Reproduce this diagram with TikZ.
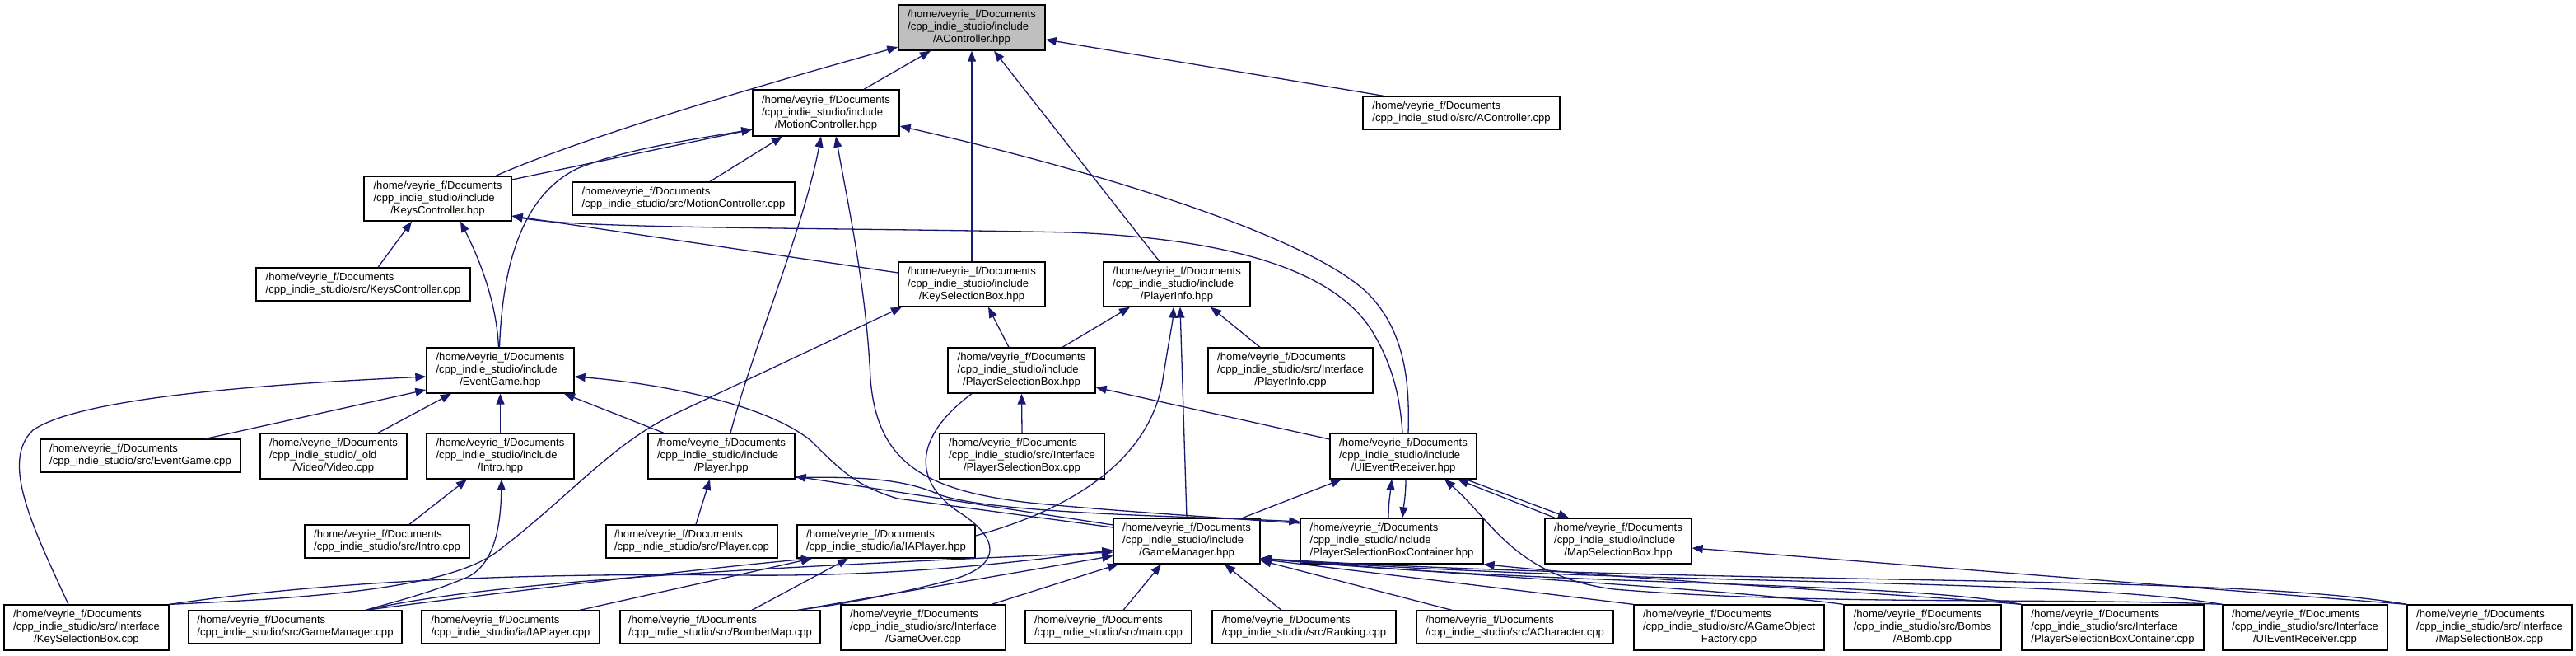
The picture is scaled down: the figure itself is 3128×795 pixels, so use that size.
\documentclass[tikz,border=0pt]{standalone}
\usepackage{fontspec}
\setmainfont{Liberation Sans}
\usetikzlibrary{arrows.meta}
\definecolor{edgec}{HTML}{191970}
\definecolor{accfill}{HTML}{BFBFBF}
\newcommand{\vHome}{/home/veyrie\_f/Documents}
\newcommand{\vInc}{/cpp\_indie\_studio/include}
\newcommand{\vSrc}{/cpp\_indie\_studio/src/}
\newcommand{\threel}[3]{\begin{tabular}{@{}l@{}}#1\\#2\\\multicolumn{1}{@{}c@{}}{#3}\end{tabular}}
\newcommand{\twol}[2]{\begin{tabular}{@{}l@{}}#1\\#2\end{tabular}}
\begin{document}
\begin{tikzpicture}[x=1pt,y=-1pt,
  nd/.style 2 args={draw=black, line width=1.3pt, fill=white, inner sep=0pt,
    minimum width=#1pt, minimum height=#2pt, font=\fontsize{13.1}{15}\selectfont},
  dep/.style={draw=edgec, line width=1.3pt, -{Triangle[length=13pt,width=10pt]}},
  plain/.style={draw=edgec, line width=1.3pt}]
\useasboundingbox[fill=white] (0,0) rectangle (3128,795);
% ---- nodes ----
\node[nd={178}{55}, fill=accfill] (ac) at (1180,33.5) {\threel{\vHome}{\vInc}{/AController.hpp}};
\node[nd={178}{56}] (mc) at (1003,137) {\threel{\vHome}{\vInc}{/MotionController.hpp}};
\node[nd={239}{40}] (acc) at (1774.5,137) {\twol{\vHome}{\vSrc AController.cpp}};
\node[nd={179}{54}] (kc) at (531.5,241) {\threel{\vHome}{\vInc}{/KeysController.hpp}};
\node[nd={270}{40}] (mcc) at (830,241) {\twol{\vHome}{\vSrc MotionController.cpp}};
\node[nd={260}{40}] (kcc) at (441,345) {\twol{\vHome}{\vSrc KeysController.cpp}};
\node[nd={178}{54}] (ksb) at (1180,345) {\threel{\vHome}{\vInc}{/KeySelectionBox.hpp}};
\node[nd={178}{54}] (pi) at (1429,345) {\threel{\vHome}{\vInc}{/PlayerInfo.hpp}};
\node[nd={200}{55}] (pic) at (1567,449.5) {\threel{\vHome}{\vSrc Interface}{/PlayerInfo.cpp}};
\node[nd={179}{55}] (psb) at (1240.5,449.5) {\threel{\vHome}{\vInc}{/PlayerSelectionBox.hpp}};
\node[nd={179}{55}] (eg) at (607.5,449.5) {\threel{\vHome}{\vInc}{/EventGame.hpp}};
\node[nd={243}{40}] (egc) at (170.5,553) {\twol{\vHome}{\vSrc EventGame.cpp}};
\node[nd={178}{55}] (vid) at (405,553.5) {\threel{\vHome}{/cpp\_indie\_studio/\_old}{/Video/Video.cpp}};
\node[nd={179}{55}] (intro) at (607.5,553.5) {\threel{\vHome}{\vInc}{/Intro.hpp}};
\node[nd={178}{55}] (pl) at (876,553.5) {\threel{\vHome}{\vInc}{/Player.hpp}};
\node[nd={200}{55}] (psbc) at (1241,553.5) {\threel{\vHome}{\vSrc Interface}{/PlayerSelectionBox.cpp}};
\node[nd={178}{55}] (uie) at (1704,553.5) {\threel{\vHome}{\vInc}{/UIEventReceiver.hpp}};
\node[nd={200}{40}] (introc) at (470,657) {\twol{\vHome}{\vSrc Intro.cpp}};
\node[nd={208}{40}] (plc) at (840,657) {\twol{\vHome}{\vSrc Player.cpp}};
\node[nd={216}{40}] (iap) at (1076,657) {\twol{\vHome}{/cpp\_indie\_studio/ia/IAPlayer.hpp}};
\node[nd={178}{55}] (gm) at (1441,656.5) {\threel{\vHome}{\vInc}{/GameManager.hpp}};
\node[nd={222}{55}] (psbcont) at (1690,656.5) {\threel{\vHome}{\vInc}{/PlayerSelectionBoxContainer.hpp}};
\node[nd={178}{55}] (msb) at (1965,656.5) {\threel{\vHome}{\vInc}{/MapSelectionBox.hpp}};
\node[nd={200}{55}] (ksbc) at (105,761.5) {\threel{\vHome}{\vSrc Interface}{/KeySelectionBox.cpp}};
\node[nd={259}{40}] (gmc) at (358.5,761) {\twol{\vHome}{\vSrc GameManager.cpp}};
\node[nd={216}{40}] (iapc) at (620,761) {\twol{\vHome}{/cpp\_indie\_studio/ia/IAPlayer.cpp}};
\node[nd={243}{40}] (bm) at (874.5,761) {\twol{\vHome}{\vSrc BomberMap.cpp}};
\node[nd={200}{55}] (go) at (1121,761.5) {\threel{\vHome}{\vSrc Interface}{/GameOver.cpp}};
\node[nd={202}{40}] (mainc) at (1346,761) {\twol{\vHome}{\vSrc main.cpp}};
\node[nd={223}{40}] (rk) at (1583.5,761) {\twol{\vHome}{\vSrc Ranking.cpp}};
\node[nd={239}{40}] (ach) at (1839.5,761) {\twol{\vHome}{\vSrc ACharacter.cpp}};
\node[nd={231}{55}] (agof) at (2099.5,761.5) {\threel{\vHome}{\vSrc AGameObject}{Factory.cpp}};
\node[nd={191}{55}] (abomb) at (2334.5,761.5) {\threel{\vHome}{\vSrc Bombs}{/ABomb.cpp}};
\node[nd={221}{55}] (psbcc) at (2565.5,761.5) {\threel{\vHome}{\vSrc Interface}{/PlayerSelectionBoxContainer.cpp}};
\node[nd={200}{55}] (uiec) at (2799,761.5) {\threel{\vHome}{\vSrc Interface}{/UIEventReceiver.cpp}};
\node[nd={200}{55}] (msbc) at (3023,761.5) {\threel{\vHome}{\vSrc Interface}{/MapSelectionBox.cpp}};
% ---- edges ----
\draw[dep] ([xshift=70.5pt]kc.north) .. controls (700,170) and (900,110) .. ([yshift=-23.5pt]ac.west);
\draw[dep] ([xshift=46pt]mc.north) -- ([xshift=-50pt]ac.south);
\draw[dep] (ksb.north) -- (ac.south);
\draw[dep] ([xshift=-21pt]pi.north) -- ([xshift=27pt]ac.south);
\draw[dep] ([xshift=-94.5pt]acc.north) -- ([yshift=-14.5pt]ac.east);
\draw[dep] ([yshift=23pt]kc.east) -- ([yshift=-20pt]mc.west);
\draw[dep] ([xshift=-1pt]eg.north) .. controls (610,330) and (630,240) .. (700,205) .. controls (760,180) and (850,168) .. ([yshift=-20pt]mc.west);
\draw[dep] ([xshift=32pt]mcc.north) -- ([xshift=-53pt]mc.south);
\draw[dep] ([xshift=11pt]pl.north) .. controls (915,420) and (975,280) .. ([xshift=-6pt]mc.south);
\draw[dep] ([yshift=21.5pt]psbcont.west) .. controls (1480,628) and (1350,620) .. (1250,610) .. controls (1120,595) and (1065,560) .. (1057,460) .. controls (1052,350) and (1030,250) .. ([xshift=12pt]mc.south);
\draw[dep] ([xshift=6pt]uie.north) .. controls (1712,460) and (1705,400) .. (1660,355) .. controls (1580,280) and (1300,200) .. ([yshift=-16pt]mc.east);
\draw[dep] ([xshift=-1pt]uie.north) .. controls (1700,480) and (1690,440) .. (1665,400) .. controls (1620,330) and (1500,290) .. (1300,282) .. controls (1000,276) and (700,278) .. ([yshift=-21pt]kc.east);
\draw[dep] ([yshift=14pt]ksb.west) -- ([yshift=-21pt]kc.east);
\draw[dep] ([xshift=18pt]kcc.north) -- ([xshift=-31.5pt]kc.south);
\draw[dep] ([xshift=-2pt]eg.north) .. controls (603,370) and (585,320) .. ([xshift=27.5pt]kc.south);
\draw[dep] ([xshift=-15.5pt]psb.north) -- ([xshift=20pt]ksb.south);
\draw[dep] (ksbc.north east) .. controls (400,725) and (540,712) .. (600,672) .. controls (690,605) and (740,540) .. (820,502) -- ([xshift=-85pt]ksb.south);
\draw[dep] ([xshift=49.5pt]psb.north) -- ([xshift=-57pt]pi.south);
\draw[dep] (gm.north) -- ([xshift=4pt]pi.south);
\draw[dep] ([yshift=7pt]iap.east) .. controls (1330,610) and (1400,540) .. (1412,460) .. controls (1420,410) and (1424,390) .. ([xshift=-4pt]pi.south);
\draw[dep] ([xshift=-37pt]pic.north) -- ([xshift=41pt]pi.south);
\draw[dep] (psbc.north) -- (psb.south);
\draw[dep] ([yshift=20.5pt]uie.west) -- ([yshift=-20.5pt]psb.east);
\draw[plain] ([xshift=-60.5pt]psb.south) .. controls (1110,530) and (1105,585) .. (1170,625) .. controls (1220,660) and (1210,690) .. (1150,705) .. controls (1060,728) and (1000,736) .. ([xshift=94.5pt]bm.north);
\draw[dep] ([xshift=79.5pt]egc.north) -- ([yshift=-23.5pt]eg.west);
\draw[dep] ([xshift=54pt]vid.north) -- ([xshift=-59.5pt]eg.south);
\draw[dep] (intro.north) -- (eg.south);
\draw[dep] ([xshift=-70pt]pl.north) -- ([xshift=77.5pt]eg.south);
\draw[dep] ([xshift=-22pt]ksbc.north) .. controls (40,640) and (0,560) .. (40,522) .. controls (100,480) and (350,465) .. ([yshift=-7.5pt]eg.west);
\draw[dep] ([yshift=16.5pt]gm.west) -- (1090,605) .. controls (1040,590) and (1020,570) .. (985,535) .. controls (930,490) and (800,465) .. ([yshift=-7.5pt]eg.east);
\draw[dep] ([xshift=27pt]introc.north) -- ([xshift=-40.5pt]intro.south);
\draw[dep] ([xshift=85.5pt]gmc.north) .. controls (480,730) and (520,720) .. (561,703) .. controls (600,690) and (608,640) .. ([xshift=1.5pt]intro.south);
\draw[dep] ([xshift=5pt]plc.north) -- ([xshift=-14pt]pl.south);
\draw[dep] ([yshift=19.5pt]gm.west) -- ([yshift=-24.5pt]pl.east);
\draw[dep] ([yshift=-26pt]pl.east) .. controls (1050,578) and (1100,582) .. (1140,600) .. controls (1180,615) and (1300,622) .. (1400,626) .. controls (1480,629) and (1540,631) .. ([yshift=23.5pt]psbcont.west);
\draw[dep] ([xshift=85.5pt]gmc.north) .. controls (600,720) and (850,690) .. ([xshift=-90pt]iap.south);
\draw[dep] ([xshift=85.5pt]gmc.north) .. controls (600,705) and (900,690) .. ([yshift=-13.5pt]gm.west);
\draw[dep] ([xshift=84pt]iapc.north) -- ([xshift=-90pt]iap.south);
\draw[dep] ([xshift=38.5pt]bm.north) -- ([xshift=-46pt]iap.south);
\draw[dep] ([xshift=94.5pt]bm.north) -- ([yshift=-18pt]gm.west);
\draw[dep] (ksbc.north east) .. controls (400,705) and (630,695) .. (900,698) .. controls (1100,700) and (1250,680) .. ([yshift=-11pt]gm.west);
\draw[dep] ([xshift=83pt]go.north) -- ([xshift=-83pt]gm.south);
\draw[dep] ([xshift=18pt]mainc.north) -- ([xshift=-31pt]gm.south);
\draw[dep] ([xshift=-27.5pt]rk.north) -- ([xshift=46pt]gm.south);
\draw[dep] ([xshift=-76.5pt]ach.north) -- ([yshift=-23.5pt]gm.east);
\draw[dep] (agof.north west) -- ([yshift=-22pt]gm.east);
\draw[dep] (abomb.north west) .. controls (2100,715) and (1800,700) .. ([yshift=-21pt]gm.east);
\draw[dep] (psbcc.north west) .. controls (2300,705) and (1900,712) .. ([yshift=-21pt]gm.east);
\draw[dep] (uiec.north west) .. controls (2500,700) and (2000,712) .. ([yshift=-21pt]gm.east);
\draw[dep] (msbc.north west) .. controls (2700,695) and (2100,712) .. ([yshift=-21pt]gm.east);
\draw[dep] ([xshift=-4pt]psbcont.north) .. controls (1686,610) and (1688,600) .. ([xshift=-14pt]uie.south);
\draw[dep] ([xshift=3pt]uie.south) .. controls (1707,600) and (1705,610) .. ([xshift=13pt]psbcont.north);
\draw[dep] ([xshift=-77pt]msb.north) -- ([xshift=66pt]uie.south);
\draw[dep] ([xshift=76pt]uie.south) -- ([xshift=-60pt]msb.north);
\draw[dep] ([xshift=68pt]gm.north) -- ([xshift=-75pt]uie.south);
\draw[dep] (uiec.north west) .. controls (2500,725) and (2200,735) .. (1960,715) .. controls (1840,700) and (1810,630) .. ([xshift=50pt]uie.south);
\draw[dep] (msbc.north west) -- ([yshift=-8.5pt]msb.east);
\draw[dep] (psbcc.north west) .. controls (2300,720) and (2000,705) .. (psbcont.south east);
\end{tikzpicture}
\end{document}
